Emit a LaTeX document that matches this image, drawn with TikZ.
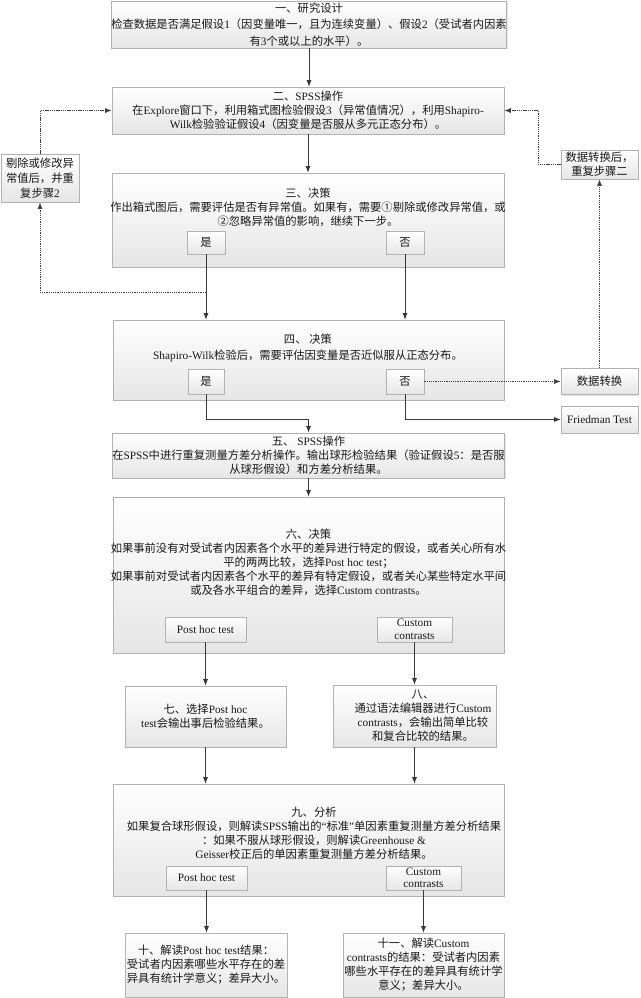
\documentclass[tikz,border=0pt]{standalone}
\usepackage{fontspec}
\setmainfont{Liberation Serif}
\newfontfamily\cjk{Noto Sans CJK SC}
\usetikzlibrary{arrows.meta,shadows}
\XeTeXinterchartokenstate=1
\newXeTeXintercharclass\CJKcls
\makeatletter
\newcommand\mysetcls[2]{\count@=#1\relax
  \loop\XeTeXcharclass\count@=\CJKcls\relax
  \ifnum\count@<#2\relax\advance\count@\@ne\repeat}
\mysetcls{"3000}{"303F}
\mysetcls{"4E00}{"9FFF}
\mysetcls{"FF00}{"FFEF}
\mysetcls{"2460}{"24FF}
\makeatother
\XeTeXinterchartoks 0 \CJKcls = {\begingroup\cjk}
\XeTeXinterchartoks 4095 \CJKcls = {\begingroup\cjk}
\XeTeXinterchartoks \CJKcls 0 = {\endgroup}
\XeTeXinterchartoks \CJKcls 4095 = {\endgroup}
\newcommand\fsz{\fontsize{11.3}{14}\selectfont}
\newcommand\fszs{\fontsize{11.3}{12.5}\selectfont}
\tikzset{
  box/.style={draw=black!30, line width=0.6pt, top color=white, bottom color=black!10,
    drop shadow={shadow xshift=1pt, shadow yshift=-1pt, opacity=0.2},
    inner sep=0pt, align=center, font=\fsz, text=black!90},
  txt/.style={align=center, font=\fsz, inner sep=0pt, text=black!90},
  conn/.style={draw=black!78, line width=0.9pt, -{Latex[length=6.5pt,width=5pt]}},
  dotconn/.style={draw=black!75, line width=1pt, dash pattern=on 1.3pt off 0.9pt,
    -{Latex[length=6.5pt,width=5pt]}},
}
\begin{document}
\begin{tikzpicture}[x=1pt,y=-1pt]
\useasboundingbox (0,0) rectangle (640,998);
% step 1
\node[box, minimum width=392pt, minimum height=47pt, font={\fontsize{11.3}{16.5}\selectfont}] (b1) at (309,24.5)
 {一、研究设计\\检查数据是否满足假设1（因变量唯一，且为连续变量）、假设2（受试者内因素\\有3个或以上的水平）。};
% step 2
\node[box, minimum width=392pt, minimum height=47pt] (b2) at (308,110.5)
 {二、SPSS操作\\在Explore窗口下，利用箱式图检验假设3（异常值情况），利用Shapiro-\\Wilk检验验证假设4（因变量是否服从多元正态分布）。};
% side boxes
\node[box, minimum width=78pt, minimum height=48pt, font={\fontsize{11.3}{15}\selectfont}] (L1) at (40,178)
 {剔除或修改异\\常值后，并重\\复步骤2};
\node[box, minimum width=77pt, minimum height=29pt] (R1) at (599.5,164.5)
 {数据转换后，\\重复步骤二};
% step 3
\node[box, minimum width=392pt, minimum height=94pt] (b3) at (308,220) {};
\node[txt] (t3) at (308,207) {三、决策\\作出箱式图后，需要评估是否有异常值。如果有，需要①剔除或修改异常值，或\\②忽略异常值的影响，继续下一步。};
\node[box, minimum width=38pt, minimum height=23pt] (y3) at (206,242.5) {是};
\node[box, minimum width=38pt, minimum height=23pt] (n3) at (405,242.5) {否};
% step 4
\node[box, minimum width=391pt, minimum height=80pt] (b4) at (308.5,360) {};
\node[txt, font={\fontsize{11.3}{16}\selectfont}] (t4) at (308,348) {四、 决策\\Shapiro-Wilk检验后，需要评估因变量是否近似服从正态分布。};
\node[box, minimum width=36pt, minimum height=25pt] (y4) at (206,381.5) {是};
\node[box, minimum width=38pt, minimum height=25pt] (n4) at (405,381.5) {否};
\node[box, minimum width=77pt, minimum height=26pt] (sj) at (599.5,381.5) {数据转换};
\node[box, minimum width=77pt, minimum height=27pt] (fr) at (599.5,419.5) {Friedman Test};
% step 5
\node[box, minimum width=391pt, minimum height=45pt] (b5) at (308.5,455.5)
 {五、 SPSS操作\\在SPSS中进行重复测量方差分析操作。输出球形检验结果（验证假设5：是否服\\从球形假设）和方差分析结果。};
% step 6
\node[box, minimum width=391pt, minimum height=156pt] (b6) at (308.5,575) {};
\node[txt] (t6) at (308.5,562.5) {六、决策\\如果事前没有对受试者内因素各个水平的差异进行特定的假设，或者关心所有水\\平的两两比较，选择Post hoc test；\\如果事前对受试者内因素各个水平的差异有特定假设，或者关心某些特定水平间\\或及各水平组合的差异，选择Custom contrasts。};
\node[box, minimum width=81pt, minimum height=25pt] (ph6) at (205.5,629.5) {Post hoc test};
\node[box, minimum width=75pt, minimum height=25pt, font=\fszs] (cc6) at (414.5,629.5) {Custom\\contrasts};
% steps 7, 8
\node[box, minimum width=161pt, minimum height=61pt] (b7) at (205.5,716.5)
 {七、选择Post hoc\\test会输出事后检验结果。};
\node[box, minimum width=163pt, minimum height=62pt] (b8) at (414.5,716) {};
\node[txt] (t8) at (423,716) {八、\\通过语法编辑器进行Custom\\contrasts，会输出简单比较\\和复合比较的结果。};
% step 9
\node[box, minimum width=391pt, minimum height=112pt] (b9) at (308.5,840) {};
\node[txt] (t9) at (314,833.5) {九、分析\\如果复合球形假设，则解读SPSS输出的“标准”单因素重复测量方差分析结果\\：如果不服从球形假设，则解读Greenhouse \&\\Geisser校正后的单因素重复测量方差分析结果。};
\node[box, minimum width=81pt, minimum height=24pt] (ph9) at (206.5,878) {Post hoc test};
\node[box, minimum width=75pt, minimum height=24pt, font=\fszs] (cc9) at (423.5,878) {Custom\\contrasts};
% steps 10, 11
\node[box, minimum width=162pt, minimum height=64pt] (b10) at (206,965)
 {十、解读Post hoc test结果：\\受试者内因素哪些水平存在的差\\异具有统计学意义；差异大小。};
\node[box, minimum width=161pt, minimum height=64pt] (b11) at (423.5,965)
 {十一、解读Custom\\contrasts的结果：受试者内因素\\哪些水平存在的差异具有统计学\\意义；差异大小。};
% connectors
\draw[conn] (b1.south) -- (b1.south |- b2.north);
\draw[conn] (b2.south) -- (b2.south |- b3.north);
\draw[conn] (y3.south) -- (y3.south |- b4.north);
\draw[conn] (n3.south) -- (n3.south |- b4.north);
\coordinate (d1) at (206,292);
\draw[dotconn] (d1) -| (L1.south);
\draw[dotconn] (L1.north) |- (b2.west);
\coordinate (d2) at (538,164.5);
\draw[dotconn] (R1.west) -- (d2) |- (b2.east);
\draw[dotconn] (sj.north) -- (R1.south);
\draw[dotconn] (n4.east) -- (n4.east -| sj.west);
\draw[conn] (n4.south) |- (fr.west);
\coordinate (j4) at (308.5,419.5);
\draw[conn] (y4.south) |- (j4) -- (b5.north);
\draw[conn] (b5.south) -- (b5.south |- b6.north);
\draw[conn] (ph6.south) -- (ph6.south |- b7.north);
\draw[conn] (cc6.south) -- (cc6.south |- b8.north);
\draw[conn] (b7.south) -- (b7.south |- b9.north);
\draw[conn] (b8.south) -- (b8.south |- b9.north);
\draw[conn] (ph9.south) -- (ph9.south |- b10.north);
\draw[conn] (cc9.south) -- (cc9.south |- b11.north);
\end{tikzpicture}
\end{document}
